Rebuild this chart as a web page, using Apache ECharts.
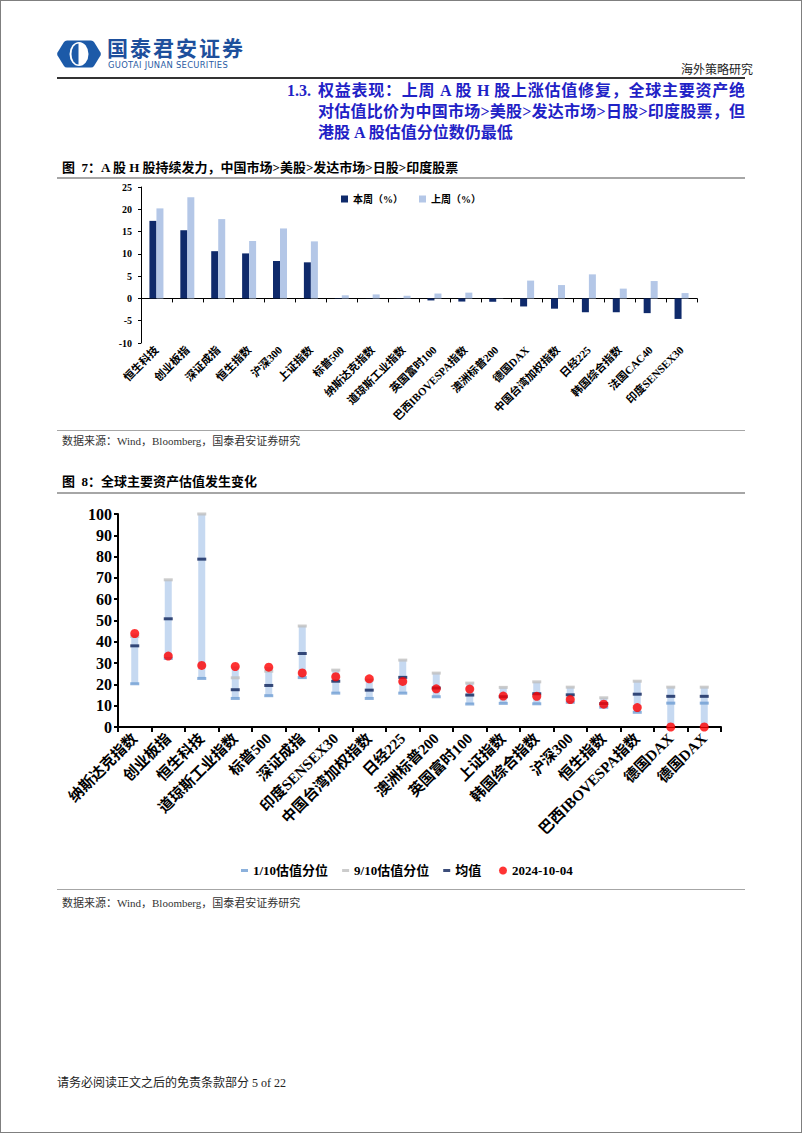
<!DOCTYPE html>
<html>
<head>
<meta charset="utf-8">
<script src="https://cdn.jsdelivr.net/npm/echarts@6/dist/echarts.min.js"></script>
<style>
html,body{margin:0;padding:0;background:#fff;}
body{width:802px;height:1133px;position:relative;overflow:hidden;font-family:"Liberation Serif","Noto Sans CJK SC",serif;color:#000;}
#chart{position:absolute;left:0;top:0;width:802px;height:1133px;}
.t{position:absolute;white-space:nowrap;}
.rule{position:absolute;left:57px;width:688px;}
#frame{position:absolute;left:0;top:0;width:802px;height:1133px;box-sizing:border-box;border:1px solid #7f7f7f;pointer-events:none;}
.head{position:absolute;left:318px;width:427px;font-size:16px;line-height:21px;font-weight:bold;color:#1f22c6;text-align:justify;text-align-last:justify;white-space:nowrap;}
</style>
</head>
<body>
<div id="chart"></div>

<svg style="position:absolute;left:56px;top:39px" width="46" height="30" viewBox="0 0 46 30">
  <path d="M11 1.5 H35 Q37 1.5 38 3 L44.5 13.5 Q45.3 15 44.5 16.5 L38 27 Q37 28.5 35 28.5 H11 Q9 28.5 8 27 L1.5 16.5 Q0.7 15 1.5 13.5 L8 3 Q9 1.5 11 1.5 Z" fill="#1c5aa8"/>
  <ellipse cx="23" cy="15" rx="9.5" ry="12" fill="#ffffff"/>
  <path d="M22.5 4.5 A 7 10.5 0 0 0 22.5 25.5 Z" fill="#1c5aa8"/>
</svg>
<div class="t" style="left:107px;top:36px;font-family:'Noto Sans CJK SC';font-weight:bold;font-size:21px;line-height:23px;letter-spacing:2px;color:#1d4f9c;">国泰君安证券</div>
<div class="t" style="left:108px;top:61px;font-family:'DejaVu Sans','Noto Sans';font-size:8.4px;line-height:9px;letter-spacing:0.3px;color:#2a5ba3;">GUOTAI JUNAN SECURITIES</div>
<div class="t" style="left:681px;top:62px;font-family:'Noto Sans CJK SC';font-size:12px;line-height:14px;color:#222;">海外策略研究</div>
<div class="rule" style="top:77px;height:1.5px;background:#333;"></div>

<div class="t" style="left:287px;top:80px;font-size:16px;line-height:21px;font-weight:bold;color:#1f22c6;">1.3.</div>
<div class="head" style="top:80px;">权益表现：上周 A 股 H 股上涨估值修复，全球主要资产绝</div>
<div class="head" style="top:101px;">对估值比价为中国市场&gt;美股&gt;发达市场&gt;日股&gt;印度股票，但</div>
<div class="t" style="left:318px;top:122px;font-size:16px;line-height:21px;font-weight:bold;color:#1f22c6;">港股 A 股估值分位数仍最低</div>

<div class="t" style="left:62px;top:160px;font-size:13px;line-height:16px;font-weight:bold;">图&nbsp; 7：A 股 H 股持续发力，中国市场&gt;美股&gt;发达市场&gt;日股&gt;印度股票</div>
<div class="rule" style="top:177px;height:2px;background:#a6a6a6;"></div>
<div class="rule" style="top:430px;height:1px;background:#a6a6a6;"></div>
<div class="t" style="left:62px;top:434px;font-size:11px;line-height:14px;color:#333;">数据来源：Wind，Bloomberg，国泰君安证券研究</div>

<div class="t" style="left:62px;top:474px;font-size:13px;line-height:16px;font-weight:bold;">图&nbsp; 8：全球主要资产估值发生变化</div>
<div class="rule" style="top:492px;height:2px;background:#a6a6a6;"></div>
<div class="rule" style="top:889px;height:1px;background:#a6a6a6;"></div>
<div class="t" style="left:62px;top:896px;font-size:11px;line-height:14px;color:#333;">数据来源：Wind，Bloomberg，国泰君安证券研究</div>

<div class="t" style="left:57px;top:1076px;font-size:12px;line-height:14px;color:#222;">请务必阅读正文之后的免责条款部分 5 of 22</div>
<div id="frame"></div>

<script>
// ---------- Chart 7 data ----------
const cats1 = ['恒生科技','创业板指','深证成指','恒生指数','沪深300','上证指数','标普500','纳斯达克指数','道琼斯工业指数','英国富时100','巴西IBOVESPA指数','澳洲标普200','德国DAX','中国台湾加权指数','日经225','韩国综合指数','法国CAC40','印度SENSEX30'];
const thisWeek = [17.4, 15.3, 10.6, 10.1, 8.4, 8.1, 0.1, 0.05, 0.05, -0.45, -0.7, -0.75, -1.8, -2.3, -3.1, -3.1, -3.3, -4.6];
const lastWeek = [20.2, 22.7, 17.8, 12.9, 15.7, 12.8, 0.7, 0.9, 0.6, 1.1, 1.3, 0.05, 4.0, 3.0, 5.4, 2.2, 3.9, 1.2];
const yMin1 = -10, yMax1 = 25, yStep1 = 5;

// ---------- Chart 8 data ----------
const cats2 = ['纳斯达克指数','创业板指','恒生科技','道琼斯工业指数','标普500','深证成指','印度SENSEX30','中国台湾加权指数','日经225','澳洲标普200','英国富时100','上证指数','韩国综合指数','沪深300','恒生指数','巴西IBOVESPA指数','德国DAX','德国DAX'];
const p10 = [20.3, 32.2, 22.8, 13.4, 14.7, 23.2, 15.9, 13.4, 15.9, 14.2, 10.8, 11.1, 10.9, 11.6, 9.3, 6.9, 11.2, 11.2];
const p90 = [42.5, 69.1, 100, 23.1, 26.2, 47.4, 26.7, 22.0, 31.4, 25.3, 20.6, 18.6, 21.2, 18.7, 13.7, 21.5, 18.7, 18.7];
const meanV = [38.1, 50.8, 78.8, 17.5, 19.5, 34.5, 21.5, 17.3, 23.3, 18.3, 15.0, 14.2, 15.6, 15.1, 11.0, 15.4, 14.4, 14.4];
const cur = [43.9, 33.3, 28.9, 28.4, 28.1, 25.4, 23.6, 22.6, 21.4, 17.9, 17.8, 14.5, 14.4, 12.9, 10.7, 9.1, 0, 0];
const yMin2 = 0, yMax2 = 100, yStep2 = 10;

const lowV = cats2.map((_, i) => Math.min(p10[i], p90[i], meanV[i], cur[i]));
const spanV = cats2.map((_, i) => Math.max(p10[i], p90[i], meanV[i], cur[i]) - lowV[i]);

const SERIF = '"Liberation Serif","Times New Roman","Noto Sans CJK SC",serif';
const chart = echarts.init(document.getElementById('chart'), null, {renderer: 'svg', width: 802, height: 1133});

const option = {
  backgroundColor: 'transparent',
  animation: false,
  textStyle: {fontFamily: SERIF},
  legend: [
    {
      data: ['本周（%）', '上周（%）'],
      left: 336, top: 189, icon: 'rect', itemWidth: 7, itemHeight: 7, itemGap: 16,
      textStyle: {fontFamily: SERIF, fontSize: 10, fontWeight: 'bold', color: '#000'}
    },
    {
      data: ['1/10估值分位', '9/10估值分位', '均值'],
      left: 236, top: 859, icon: 'rect', itemWidth: 7, itemHeight: 3, itemGap: 14,
      textStyle: {fontFamily: SERIF, fontSize: 13, fontWeight: 'bold', color: '#000'}
    },
    {
      data: ['2024-10-04'],
      left: 494, top: 859, icon: 'circle', itemWidth: 8, itemHeight: 8,
      textStyle: {fontFamily: SERIF, fontSize: 13, fontWeight: 'bold', color: '#000'}
    }
  ],
  grid: [
    {left: 141, top: 187, width: 556, height: 156},
    {left: 118, top: 514, width: 603, height: 213}
  ],
  xAxis: [
    {
      gridIndex: 0, type: 'category', data: cats1,
      axisLine: {onZero: true, lineStyle: {color: '#000', width: 1}},
      axisTick: {show: true, length: 4, lineStyle: {color: '#000'}},
      axisLabel: {rotate: 45, margin: 5, interval: 0, fontFamily: SERIF, fontSize: 11, fontWeight: 'bold', color: '#000'}
    },
    {
      gridIndex: 1, type: 'category', data: cats2,
      axisLine: {onZero: true, lineStyle: {color: '#000', width: 2}},
      axisTick: {show: true, length: 5, lineStyle: {color: '#000', width: 2}},
      axisLabel: {rotate: 45, margin: 9, interval: 0, fontFamily: SERIF, fontSize: 15, fontWeight: 'bold', color: '#000'}
    }
  ],
  yAxis: [
    {
      gridIndex: 0, type: 'value', min: yMin1, max: yMax1, interval: yStep1,
      splitLine: {show: false},
      axisLine: {show: true, lineStyle: {color: '#000', width: 1}},
      axisTick: {show: true, length: 3, lineStyle: {color: '#000'}},
      axisLabel: {margin: 9, fontFamily: SERIF, fontSize: 10, fontWeight: 'bold', color: '#000'}
    },
    {
      gridIndex: 1, type: 'value', min: yMin2, max: yMax2, interval: yStep2,
      splitLine: {show: false},
      axisLine: {show: true, lineStyle: {color: '#000', width: 2}},
      axisTick: {show: true, length: 4, lineStyle: {color: '#000', width: 2}},
      axisLabel: {margin: 6, fontFamily: SERIF, fontSize: 16, fontWeight: 'bold', color: '#000'}
    }
  ],
  series: [
    {name: '本周（%）', type: 'bar', xAxisIndex: 0, yAxisIndex: 0, data: thisWeek, barWidth: 7, barGap: '0%', itemStyle: {color: '#0f2a6b'}},
    {name: '上周（%）', type: 'bar', xAxisIndex: 0, yAxisIndex: 0, data: lastWeek, barWidth: 7, barGap: '0%', itemStyle: {color: '#b4c7e7'}},

    {name: 'base', type: 'bar', xAxisIndex: 1, yAxisIndex: 1, stack: 'hl', data: lowV, barWidth: 7, itemStyle: {color: 'transparent'}, silent: true},
    {name: 'range', type: 'bar', xAxisIndex: 1, yAxisIndex: 1, stack: 'hl', data: spanV, barWidth: 7, itemStyle: {color: '#c6d9f1'}, silent: true},
    {name: '1/10估值分位', type: 'scatter', xAxisIndex: 1, yAxisIndex: 1, data: p10, symbol: 'rect', symbolSize: [9, 3], itemStyle: {color: '#6f9dd3'}},
    {name: '9/10估值分位', type: 'scatter', xAxisIndex: 1, yAxisIndex: 1, data: p90, symbol: 'rect', symbolSize: [9, 3], itemStyle: {color: '#bfbfbf'}},
    {name: '均值', type: 'scatter', xAxisIndex: 1, yAxisIndex: 1, data: meanV, symbol: 'rect', symbolSize: [9, 3], itemStyle: {color: '#0b2159'}},
    {name: '2024-10-04', type: 'scatter', xAxisIndex: 1, yAxisIndex: 1, data: cur, symbol: 'circle', symbolSize: 9, itemStyle: {color: '#ff0000'}}
  ]
};
chart.setOption(option);
</script>
</body>
</html>
